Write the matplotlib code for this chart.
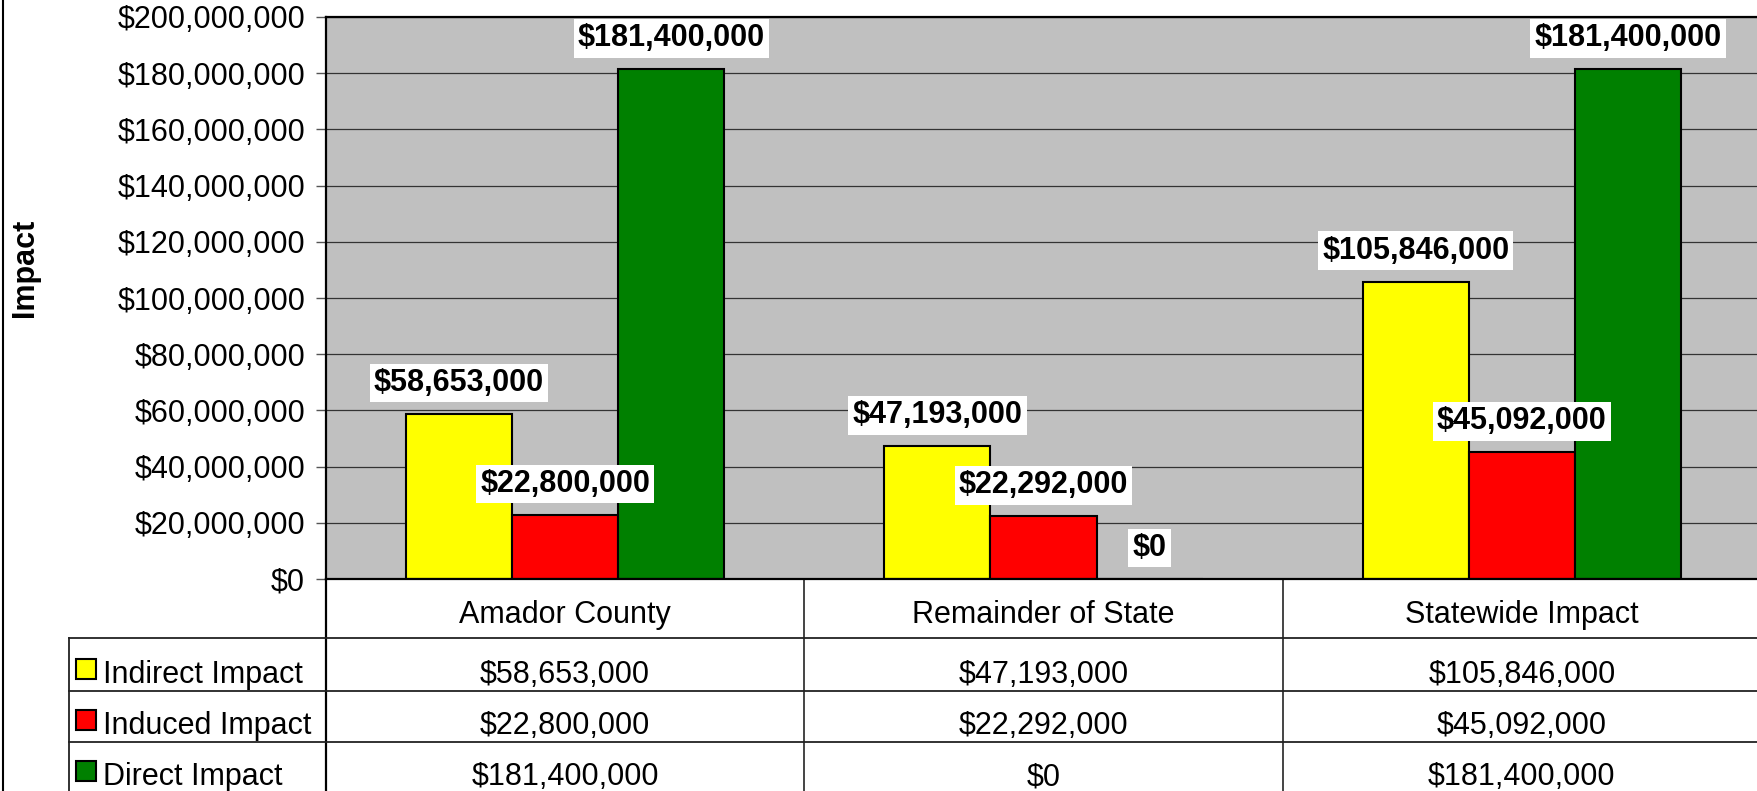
import matplotlib
matplotlib.use("Agg")
import matplotlib.pyplot as plt
import numpy as np
from matplotlib.ticker import FuncFormatter
from matplotlib.lines import Line2D
from matplotlib.patches import Rectangle

plt.rcParams['font.family'] = ['Liberation Sans', 'DejaVu Sans']

categories = ["Amador County", "Remainder of State", "Statewide Impact"]
series_names = ["Indirect Impact", "Induced Impact", "Direct Impact"]
indirect = [58653000, 47193000, 105846000]
induced = [22800000, 22292000, 45092000]
direct = [181400000, 0, 181400000]
series_values = [indirect, induced, direct]
colors = ["#FFFF00", "#FF0000", "#008000"]
y_ticks = list(range(0, 200000001, 20000000))

def money(v):
    return "${:,.0f}".format(v)

W, H = 1757, 791
fig = plt.figure(figsize=(W / 100, H / 100), dpi=100)
ax_l, ax_r, ax_t, ax_b = 326, 1761, 17, 579
ax = fig.add_axes([ax_l / W, (H - ax_b) / H, (ax_r - ax_l) / W, (ax_b - ax_t) / H])
ax.set_facecolor("#C0C0C0")

x = np.arange(len(categories))
bw = 0.222
offsets = [-bw, 0, bw]
for vals, off, col in zip(series_values, offsets, colors):
    bars = ax.bar(x + off, vals, width=bw, color=col, edgecolor="black", linewidth=1.5, zorder=2)
    for xi, v in zip(x + off, vals):
        ax.annotate(money(v), (xi, v), xytext=(0, 16), textcoords="offset pixels",
                    ha="center", va="bottom", fontsize=22, fontweight="bold",
                    bbox=dict(boxstyle="square,pad=0.14", fc="white", ec="none"),
                    zorder=5, annotation_clip=False)

ax.set_xlim(-0.5, len(categories) - 0.5)
ax.set_ylim(0, 200000000)
ax.set_yticks(y_ticks)
ax.yaxis.set_major_formatter(FuncFormatter(lambda v, p: money(v)))
ax.yaxis.grid(True, color="#333333", linewidth=0.9)
ax.set_axisbelow(True)
ax.tick_params(axis="y", length=7, width=1, color="#555555", pad=8, labelsize=22)
ax.tick_params(axis="x", length=0, labelbottom=False)
ax.spines["right"].set_visible(False)
for s in ["top", "left", "bottom"]:
    ax.spines[s].set_linewidth(1.6)
    ax.spines[s].set_color("black")

# y-axis title
fig.text(25 / W, 1 - 268 / H, "Impact", rotation=90, ha="center", va="center",
         fontsize=22, fontweight="bold")

# figure left border
fig.add_artist(Line2D([2.5 / W, 2.5 / W], [0, 1], color="black", lw=1.5))

# --- data table below the plot ---
ph = ax_b - ax_t
def yf(ypx):
    return (ax_b - ypx) / ph

xt = ax.get_xaxis_transform()
row_lines = [638, 691, 742]
for b in np.arange(len(categories) + 1) - 0.5:
    lw = 1.6 if b == -0.5 else 1.4
    c = "black" if b == -0.5 else "#444444"
    ax.add_line(Line2D([b, b], [yf(579), yf(H + 5)], transform=xt, color=c, lw=lw, clip_on=False))
for ry in row_lines:
    fig.add_artist(Line2D([69 / W, 1], [1 - ry / H, 1 - ry / H], color="#222222", lw=1.3))
fig.add_artist(Line2D([69 / W, 69 / W], [1 - 638 / H, 0], color="#222222", lw=1.3))

for xi, cat in zip(x, categories):
    ax.text(xi, yf(623), cat, transform=xt, ha="center", va="baseline", fontsize=22, clip_on=False)

baselines = [683, 734, 785]
for name, vals, col, bl in zip(series_names, series_values, colors, baselines):
    fig.add_artist(Rectangle((76 / W, 1 - (bl - 4) / H), 20 / W, 20 / H, facecolor=col,
                             edgecolor="black", lw=1.5, transform=fig.transFigure))
    fig.text(103 / W, 1 - bl / H, name, ha="left", va="baseline", fontsize=22)
    for xi, v in zip(x, vals):
        ax.text(xi, yf(bl), money(v), transform=xt, ha="center", va="baseline", fontsize=22, clip_on=False)

fig.savefig("out.png", dpi=100)
